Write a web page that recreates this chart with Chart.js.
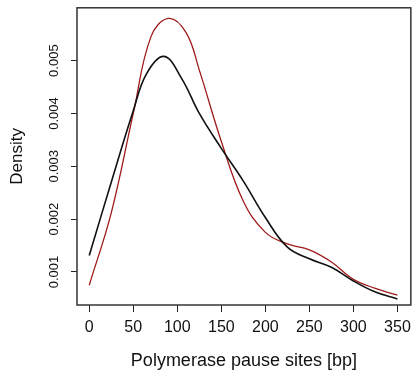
<!DOCTYPE html>
<html>
<head>
<meta charset="utf-8">
<script src="https://cdn.jsdelivr.net/npm/chart.js@4.4.1/dist/chart.umd.min.js"></script>
<style>
  html, body { margin: 0; padding: 0; background: #ffffff; }
  #wrap { width: 417px; height: 375px; position: relative; }
  canvas { display: block; }
</style>
</head>
<body>
<div id="wrap"><canvas id="c" width="417" height="375" style="width:417px;height:375px"></canvas></div>
<script>
// Density estimates
const blackX = [0, 25, 50, 65, 85, 105, 125, 150, 175, 200, 225, 250, 275, 300, 325, 350];
const blackY = [0.00131, 0.00270, 0.00405, 0.00475, 0.00508, 0.00466, 0.00400, 0.00334, 0.00272, 0.00203, 0.00147, 0.00125, 0.00109, 0.00083, 0.00062, 0.00049];
const redX = [0, 25, 50, 70, 90, 110, 125, 150, 175, 200, 225, 250, 275, 300, 325, 350];
const redY = [0.00075, 0.00212, 0.00400, 0.00545, 0.00580, 0.00553, 0.00482, 0.00347, 0.00234, 0.00175, 0.00153, 0.00142, 0.00119, 0.00086, 0.00069, 0.00056];
const xTicks = [0, 50, 100, 150, 200, 250, 300, 350];
const yTicks = [0.001, 0.002, 0.003, 0.004, 0.005];
const xTitle = 'Polymerase pause sites [bp]';
const yTitle = 'Density';

const FONT = "'Liberation Sans', Arial, Helvetica, sans-serif";

const boxPlugin = {
  id: 'box',
  afterDraw(chart) {
    const a = chart.chartArea;
    const ctx = chart.ctx;
    ctx.save();
    ctx.strokeStyle = '#333333';
    ctx.lineWidth = 1.5;
    ctx.strokeRect(a.left, a.top, a.right - a.left, a.bottom - a.top);
    ctx.restore();
  }
};

new Chart(document.getElementById('c'), {
  type: 'line',
  data: {
    datasets: [
      {
        data: blackX.map((x, i) => ({ x: x, y: blackY[i] })),
        borderColor: '#111111',
        borderWidth: 1.6,
        pointRadius: 0,
        tension: 0.4,
        fill: false
      },
      {
        data: redX.map((x, i) => ({ x: x, y: redY[i] })),
        borderColor: '#9e1b1b',
        borderWidth: 1.3,
        pointRadius: 0,
        tension: 0.4,
        fill: false
      }
    ]
  },
  options: {
    responsive: false,
    animation: false,
    devicePixelRatio: 1,
    layout: { padding: { top: 5, right: 5, left: 0, bottom: 0 } },
    plugins: { legend: { display: false }, tooltip: { enabled: false } },
    scales: {
      x: {
        type: 'linear',
        min: -13.9,
        max: 365.2,
        afterBuildTicks: (s) => { s.ticks = xTicks.map(v => ({ value: v })); },
        afterFit: (s) => { s.height = 70; },
        grid: { display: true, drawOnChartArea: false, drawTicks: true, tickLength: 7, color: '#222222', lineWidth: 1 },
        border: { display: false },
        ticks: {
          color: '#111111',
          font: { family: FONT, size: 16 },
          padding: 6,
          maxRotation: 0,
          autoSkip: false,
          callback: (v) => String(v)
        },
        title: {
          display: true,
          text: xTitle,
          color: '#111111',
          font: { family: FONT, size: 18 },
          padding: { top: 0, bottom: 3 }
        }
      },
      y: {
        type: 'linear',
        min: 0.000375,
        max: 0.006,
        afterBuildTicks: (s) => { s.ticks = yTicks.map(v => ({ value: v })); },
        afterFit: (s) => { s.width = 77; },
        grid: { display: true, drawOnChartArea: false, drawTicks: true, tickLength: 6, color: '#222222', lineWidth: 1 },
        border: { display: false },
        ticks: {
          color: '#111111',
          font: { family: FONT, size: 13 },
          padding: 0,
          minRotation: 90,
          maxRotation: 90,
          crossAlign: 'center',
          autoSkip: false,
          callback: (v) => Number(v).toFixed(3)
        },
        title: {
          display: true,
          text: yTitle,
          color: '#111111',
          font: { family: FONT, size: 17 },
          padding: { top: 7, bottom: 0 }
        }
      }
    }
  },
  plugins: [boxPlugin]
});
</script>
</body>
</html>
